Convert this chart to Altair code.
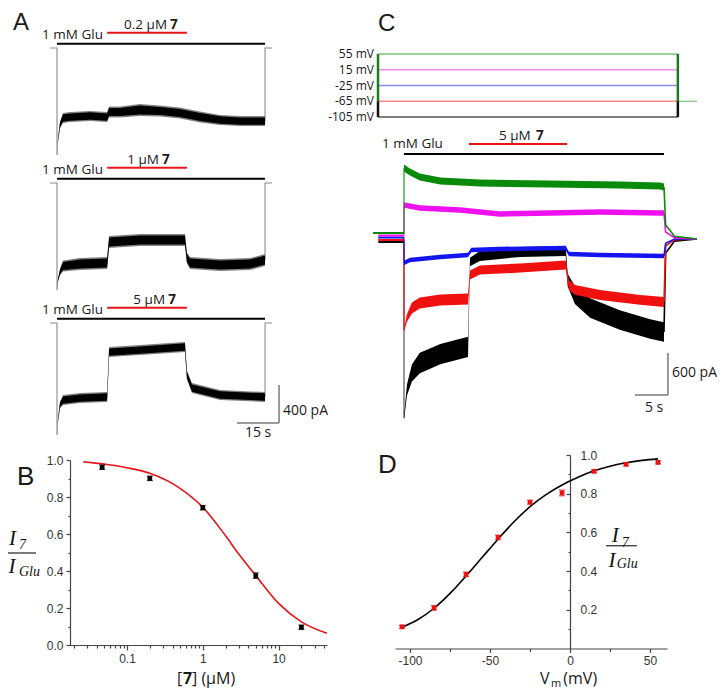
import altair as alt
import pandas as pd

# ===================== data =====================
# Panel A: three recordings (time s, current pA relative to holding, noise half-width pA)
A1_T = [0, 0.36, 1.07, 2.14, 4.6, 11.8, 17.9, 18.6, 22.5, 29.6, 36.8, 43.9, 51.1, 58.2, 65.4, 74.3]
A1_I = [-1124, -966, -809, -735, -725, -714, -725, -672, -672, -651, -662, -683, -725, -756, -767, -767]
A1_N = [5, 15, 30, 45, 45, 45, 45, 50, 50, 55, 50, 50, 50, 45, 45, 45]
A2_T = [0, 0.36, 1.07, 2.14, 8.2, 17.9, 18.6, 29.6, 45.7, 46.4, 47.5, 58.2, 68.9, 74.3]
A2_I = [-1124, -1019, -935, -872, -851, -840, -620, -599, -599, -788, -840, -861, -851, -809]
A2_N = [5, 15, 30, 50, 55, 55, 55, 55, 55, 50, 55, 55, 55, 55]
A3_T = [0, 0.36, 1.07, 2.14, 8.2, 17.9, 18.6, 29.6, 45.7, 46.4, 48.2, 58.2, 74.3]
A3_I = [-1176, -1019, -861, -809, -788, -777, -305, -284, -252, -546, -683, -756, -777]
A3_N = [5, 15, 30, 45, 45, 45, 45, 45, 45, 40, 45, 45, 45]
A_GLU = [0, 74.3]
A_DRUG = [17.9, 46.4]
A_DRUG_TXT = ["0.2 µM", "1 µM", "5 µM"]

# Panel B: concentration-response
B_C = [0.047, 0.2, 1, 5, 20]
B_Y = [0.961, 0.901, 0.742, 0.375, 0.096]
B_E = [0.012, 0.012, 0.012, 0.015, 0.012]
B_FIT_C = [0.0265, 0.05, 0.1, 0.2, 0.5, 1, 2, 3, 5, 10, 20, 43.5]
B_FIT_Y = [0.99, 0.978, 0.958, 0.928, 0.847, 0.745, 0.59, 0.49, 0.375, 0.225, 0.125, 0.063]

# Panel C: voltage protocol and currents
VP_V = [55, 15, -25, -65, -105]
VP_COL = ["#7cc47c", "#ef8cef", "#8a8af0", "#f08a8a", "#555555"]
VP_T = [-3.94, 41.5, 44.4]
C_GLU = [0, 39.4]
C_DRUG = [9.85, 24.7]
CG_T = [0, 0.9, 2.4, 5.5, 11.5, 22.1, 32.7, 38.8, 39.4]
CG_I = [1015, 958, 887, 829, 801, 787, 772, 758, 744]
CM_T = [0, 2.4, 8.5, 14.5, 22.1, 29.7, 38.8, 39.4]
CM_I = [486, 443, 415, 358, 372, 386, 372, 372]
CB_T = [0, 0.9, 5.5, 9.7, 10.2, 14.5, 24.5, 25.0, 29.7, 39.4]
CB_I = [-343, -300, -257, -229, -157, -143, -129, -215, -229, -243]
CR_T = [0, 0.45, 1.2, 2.4, 5.5, 9.7, 10.0, 11.5, 17.6, 24.5, 25.0, 25.9, 29.7, 35.8, 39.4]
CR_I = [-1301, -1130, -987, -915, -872, -858, -515, -443, -415, -372, -658, -729, -801, -872, -901]
CR_N = [20, 55, 80, 80, 80, 80, 65, 65, 65, 65, 70, 70, 70, 70, 70]
CK_T = [0, 0.45, 1.2, 2.4, 5.5, 9.7, 10.0, 11.5, 17.6, 24.5, 24.8, 25.9, 28.2, 32.7, 37.3, 39.4]
CK_I = [-2560, -2159, -1916, -1773, -1645, -1544, -329, -243, -186, -172, -586, -801, -987, -1158, -1287, -1330]
CK_N = [30, 80, 120, 145, 145, 145, 60, 70, 70, 70, 90, 130, 140, 140, 140, 140]
C_PRE = [86, 50, 21, -14, -43]          # green, magenta, blue, red, black
C_POST1 = [200, 100, -60, -100, -200]
C_POST2 = [40, 20, 0, -10, -30]

# Panel D: voltage dependence
D_V = [-105, -85, -65, -45, -25, -5, 15, 35, 55]
D_Y = [0.112, 0.21, 0.383, 0.574, 0.756, 0.804, 0.916, 0.952, 0.962]
D_E = [0.008, 0.012, 0.012, 0.012, 0.01, 0.015, 0.008, 0.008, 0.008]
D_FIT_V = [-105, -95, -85, -75, -65, -55, -45, -35, -25, -15, -5, 5, 15, 25, 35, 45, 55]
D_FIT_Y = [0.11, 0.15, 0.208, 0.285, 0.375, 0.47, 0.565, 0.655, 0.733, 0.795, 0.845, 0.885,
           0.918, 0.942, 0.96, 0.972, 0.98]

# ===================== layout helpers =====================
W, H = 709, 682
RED = "#e8141a"
FONT = "Open Sans"
AXF = "Liberation Sans"
SERIF = "Liberation Serif"


def px(v):
    return v - 8


def lin(d, r):
    return alt.Scale(type="linear", domain=d, range=r, nice=False, zero=False)


layers = []


def add(df, mark, xs, ys, x="x", y="y", x2=None, y2=None, text=None, order=None,
        xaxis=None, yaxis=None, **kw):
    ch = getattr(alt.Chart(df), "mark_" + mark)(**kw)
    e = {"x": alt.X(f"{x}:Q", scale=xs, axis=xaxis),
         "y": alt.Y(f"{y}:Q", scale=ys, axis=yaxis)}
    if x2:
        e["x2"] = alt.X2(f"{x2}:Q")
    if y2:
        e["y2"] = alt.Y2(f"{y2}:Q")
    if text:
        e["text"] = alt.Text(f"{text}:N")
    if order:
        e["order"] = alt.Order(f"{order}:Q")
    layers.append(ch.encode(**e))


def txt(xs, ys, x, y, s, align="left", baseline="alphabetic", size=13.5, font=FONT,
        weight="normal", style="normal", color="#1a1a1a"):
    df = pd.DataFrame({"x": [x], "y": [y], "s": [s]})
    add(df, "text", xs, ys, text="s", align=align, baseline=baseline, fontSize=size,
        font=font, fontWeight=weight, fontStyle=style, color=color)


def hseg(xs, ys, x0, x1, y, color, w):
    add(pd.DataFrame({"x": [x0], "x2": [x1], "y": [y]}), "rule", xs, ys, x2="x2",
        color=color, strokeWidth=w)


def vseg(xs, ys, x, y0, y1, color, w):
    add(pd.DataFrame({"x": [x], "y": [y0], "y2": [y1]}), "rule", xs, ys, y2="y2",
        color=color, strokeWidth=w)


def band(xs, ys, T, I, N, color, k=1.0, opacity=1.0):
    df = pd.DataFrame({"x": T, "lo": [i - k * n for i, n in zip(I, N)],
                       "hi": [i + k * n for i, n in zip(I, N)]})
    add(df, "area", xs, ys, y="lo", y2="hi", color=color, opacity=opacity,
        interpolate="linear")


def poly(xs, ys, X, Y, color, w, interp="linear"):
    df = pd.DataFrame({"x": X, "y": Y, "i": list(range(len(X)))})
    add(df, "line", xs, ys, order="i", color=color, strokeWidth=w, interpolate=interp)


def fraction(xs, ys, i1, s1, ln, i2, s2):
    txt(xs, ys, i1[0], i1[1], "I", size=21, font=SERIF, style="italic", color="#111")
    txt(xs, ys, s1[0], s1[1], "7", size=14, font=SERIF, style="italic", color="#111")
    hseg(xs, ys, ln[0], ln[1], ln[2], "#222", 1.2)
    txt(xs, ys, i2[0], i2[1], "I", size=21, font=SERIF, style="italic", color="#111")
    txt(xs, ys, s2[0], s2[1], "Glu", size=14, font=SERIF, style="italic", color="#111")


AX = dict(labelFont=AXF, labelFontSize=12, labelColor="#333", domainColor="#444",
          tickColor="#444", grid=False, title=None, domainWidth=1.2, tickWidth=1.2)

# ===================== Panel A =====================
tA = lin([0, 74.3], [px(57), px(57 + 74.3 * 2.8)])
A_BASE = [48, 183, 323]
A_TR = [(A1_T, A1_I, A1_N), (A2_T, A2_I, A2_N), (A3_T, A3_I, A3_N)]
A_TXT_R = [39.3, 36.4, 38.6]
for k, ((T, I, N), b) in enumerate(zip(A_TR, A_BASE)):
    yA = lin([-1000, 0], [px(b) + 1000 / 10.5, px(b)])
    poly(tA, yA, [-2.5, 0, 0], [0, 0, I[0]], "#8a8a8a", 1.1)
    poly(tA, yA, [A_GLU[1], A_GLU[1], A_GLU[1] + 2.5], [I[-1], 0, 0], "#8a8a8a", 1.1)
    band(tA, yA, T, I, N, "#808080", k=1.15)
    band(tA, yA, T, I, N, "#000000", k=0.85)
    hseg(tA, yA, A_GLU[0], A_GLU[1], 45, "#000000", 2)
    hseg(tA, yA, A_DRUG[0], A_DRUG[1], 160, RED, 2)
    txt(tA, yA, 16.4, 95, "1 mM Glu", align="right")
    txt(tA, yA, A_TXT_R[k], 195, A_DRUG_TXT[k], align="right")
    txt(tA, yA, A_TXT_R[k] + 1.1, 195, "7", weight="bold")
    if k == 0:
        txt(tA, yA, -15.7, 189, "A", size=24, font=AXF)
    if k == 2:
        vseg(tA, yA, 79.3, -651, -1050, "#7a7a7a", 1.5)
        hseg(tA, yA, 64.3, 79.3, -1050, "#7a7a7a", 1.5)
        txt(tA, yA, 80.7, -924, "400 pA", baseline="middle", size=14)
        txt(tA, yA, 71.8, -1197, "15 s", align="center", size=14)

# ===================== Panel C =====================
tC = lin([0, 39.4], [px(404), px(664)])
iC = lin([-1000, 0], [px(239) + 1000 / 14.3, px(239)])
vC = lin([-105, 55], [px(117), px(54)])

for V, col in zip(VP_V, VP_COL):
    hseg(tC, vC, VP_T[0], VP_T[1], V, col, 1.4)
    txt(tC, vC, -4.55, V, f"{V} mV", align="right", baseline="middle", size=12)
hseg(tC, vC, VP_T[1], VP_T[2], -65, "#7cc47c", 1.2)
for tt in VP_T[:2]:
    vseg(tC, vC, tt, 55, -65, "#1d7a1d", 2.5)
    vseg(tC, vC, tt, -65, -105, "#111111", 2.5)

C_TR = [  # drawn back to front: black, red, blue, magenta, green
    (CK_T, CK_I, CK_N, "#000000", 4, "#444444"),
    (CR_T, CR_I, CR_N, "#f01010", 3, "#f01010"),
    (CB_T, CB_I, [32] * len(CB_T), "#1414f0", 2, "#1414f0"),
    (CM_T, CM_I, [40] * len(CM_T), "#ee10ee", 1, "#ee10ee"),
    (CG_T, CG_I, [50] * len(CG_T), "#0a8a0a", 0, "#0a8a0a"),
]
for T, I, N, col, j, lcol in C_TR:
    t0 = -4.7 if j == 0 else -3.9
    poly(tC, iC, [t0, 0], [C_PRE[j], C_PRE[j]], col, 2)
    poly(tC, iC, [0, 0], [C_PRE[j], I[0]], lcol, 1.1)
    poly(tC, iC, [C_GLU[1], C_GLU[1] + 0.25, 41.0, 44.4],
         [I[-1], C_POST1[j], C_POST2[j], 0], col, 1.6)
    band(tC, iC, T, I, N, col)

hseg(tC, iC, C_GLU[0], C_GLU[1], 1215, "#000000", 2)
hseg(tC, iC, C_DRUG[0], C_DRUG[1], 1358, RED, 2)
txt(tC, iC, -3.33, 1301, "1 mM Glu")
txt(tC, iC, 19.2, 1416, "5 µM", align="right")
txt(tC, iC, 20.0, 1416, "7", weight="bold")
txt(tC, iC, -3.94, 2974, "C", size=24, font=AXF)
vseg(tC, iC, 40.0, -1630, -2231, "#7a7a7a", 1.5)
hseg(tC, iC, 35.0, 40.0, -2231, "#7a7a7a", 1.5)
txt(tC, iC, 40.6, -1916, "600 pA", baseline="middle", size=14)
txt(tC, iC, 37.9, -2474, "5 s", align="center", size=14)

# ===================== Panel B =====================
xB = alt.Scale(type="log", domain=[0.0177, 43.5], range=[px(70), px(327)], nice=False)
yB = lin([0, 1], [px(645), px(460)])
B_MINOR_X = [0.02, 0.03, 0.04, 0.05, 0.06, 0.07, 0.08, 0.09, 0.2, 0.3, 0.4, 0.5, 0.6, 0.7,
             0.8, 0.9, 2, 3, 4, 5, 6, 7, 8, 9, 20, 30, 40]
add(pd.DataFrame({"x": B_FIT_C, "y": B_FIT_Y}), "line", xB, yB, color=RED, strokeWidth=1.6,
    interpolate="monotone",
    xaxis=alt.Axis(orient="bottom", offset=px(645) - H, values=B_MINOR_X, labels=False,
                   domain=False, tickSize=3, **AX),
    yaxis=alt.Axis(orient="left", offset=-px(70), values=[0.1, 0.3, 0.5, 0.7, 0.9],
                   labels=False, domain=False, tickSize=2, **AX))
bdf = pd.DataFrame({"x": B_C, "y": B_Y, "lo": [y - e for y, e in zip(B_Y, B_E)],
                    "hi": [y + e for y, e in zip(B_Y, B_E)]})
add(bdf, "rule", xB, yB, y="lo", y2="hi", color="#000", strokeWidth=1.2)
add(bdf, "tick", xB, yB, y="lo", orient="horizontal", size=6, thickness=1.2, color="#000")
add(bdf, "tick", xB, yB, y="hi", orient="horizontal", size=6, thickness=1.2, color="#000")
add(bdf, "square", xB, yB, size=22, color="#000", opacity=1,
    xaxis=alt.Axis(orient="bottom", offset=px(645) - H, values=[0.1, 1, 10], format="~g",
                   tickSize=5, labelPadding=3, **AX),
    yaxis=alt.Axis(orient="left", offset=-px(70), values=[0, 0.2, 0.4, 0.6, 0.8, 1.0],
                   format=".1f", tickSize=4, labelPadding=3, **AX))
txt(xB, yB, 0.00354, 0.865, "B", size=26, font=AXF)
fraction(xB, yB, (0.002776, 0.5405), (0.003759, 0.519), (0.002692, 0.006302, 0.4973),
         (0.002733, 0.389), (0.003759, 0.373))
txt(xB, yB, 0.4566, -0.211, "[", size=16)
txt(xB, yB, 0.548, -0.211, "7", size=16, weight="bold")
txt(xB, yB, 0.7204, -0.211, "] (µM)", size=16)

# ===================== Panel D =====================
xD = lin([-109.4, 60.6], [px(395), px(667)])
yD = lin([0, 1], [px(648.5), px(455)])
add(pd.DataFrame({"x": D_FIT_V, "y": D_FIT_Y}), "line", xD, yD, color="#000",
    strokeWidth=1.6, interpolate="monotone",
    xaxis=alt.Axis(orient="bottom", offset=px(648.5) - H, values=[-75, -25, 25],
                   labels=False, domain=False, tickSize=3, **AX),
    yaxis=alt.Axis(orient="left", offset=-px(570), values=[0.1, 0.3, 0.5, 0.7, 0.9],
                   labels=False, domain=False, tickSize=2, **AX))
ddf = pd.DataFrame({"x": D_V, "y": D_Y, "lo": [y - e for y, e in zip(D_Y, D_E)],
                    "hi": [y + e for y, e in zip(D_Y, D_E)]})
add(ddf, "rule", xD, yD, y="lo", y2="hi", color=RED, strokeWidth=1.2)
add(ddf, "tick", xD, yD, y="lo", orient="horizontal", size=6, thickness=1.2, color=RED)
add(ddf, "tick", xD, yD, y="hi", orient="horizontal", size=6, thickness=1.2, color=RED)
add(ddf, "square", xD, yD, size=22, color=RED, opacity=1,
    xaxis=alt.Axis(orient="bottom", offset=px(648.5) - H, values=[-100, -50, 0, 50],
                   labelExpr="'' + datum.value", tickSize=4, labelPadding=3, **AX),
    yaxis=alt.Axis(orient="left", offset=-px(570), values=[0.2, 0.4, 0.6, 0.8, 1.0],
                   format=".1f", tickSize=4, labelAlign="left", labelPadding=-14, **AX))
txt(xD, yD, -120, 0.906, "D", size=26, font=AXF)
fraction(xD, yD, (26.0, 0.551), (32.3, 0.525), (22.5, 41.7, 0.531), (24.0, 0.422),
         (29.2, 0.414))
txt(xD, yD, -18.75, -0.183, "V", size=16)
txt(xD, yD, -11.9, -0.199, "m", size=11)
txt(xD, yD, -4.2, -0.183, "(mV)", size=16)

# ===================== assemble =====================
chart = (
    alt.layer(*layers)
    .resolve_scale(x="independent", y="independent")
    .properties(width=W, height=H, padding=0, autosize=alt.AutoSizeParams(type="none"),
                background="white")
    .configure_view(stroke=None)
)
chart.save("out.html", embed_options={"renderer": "svg", "actions": False})
